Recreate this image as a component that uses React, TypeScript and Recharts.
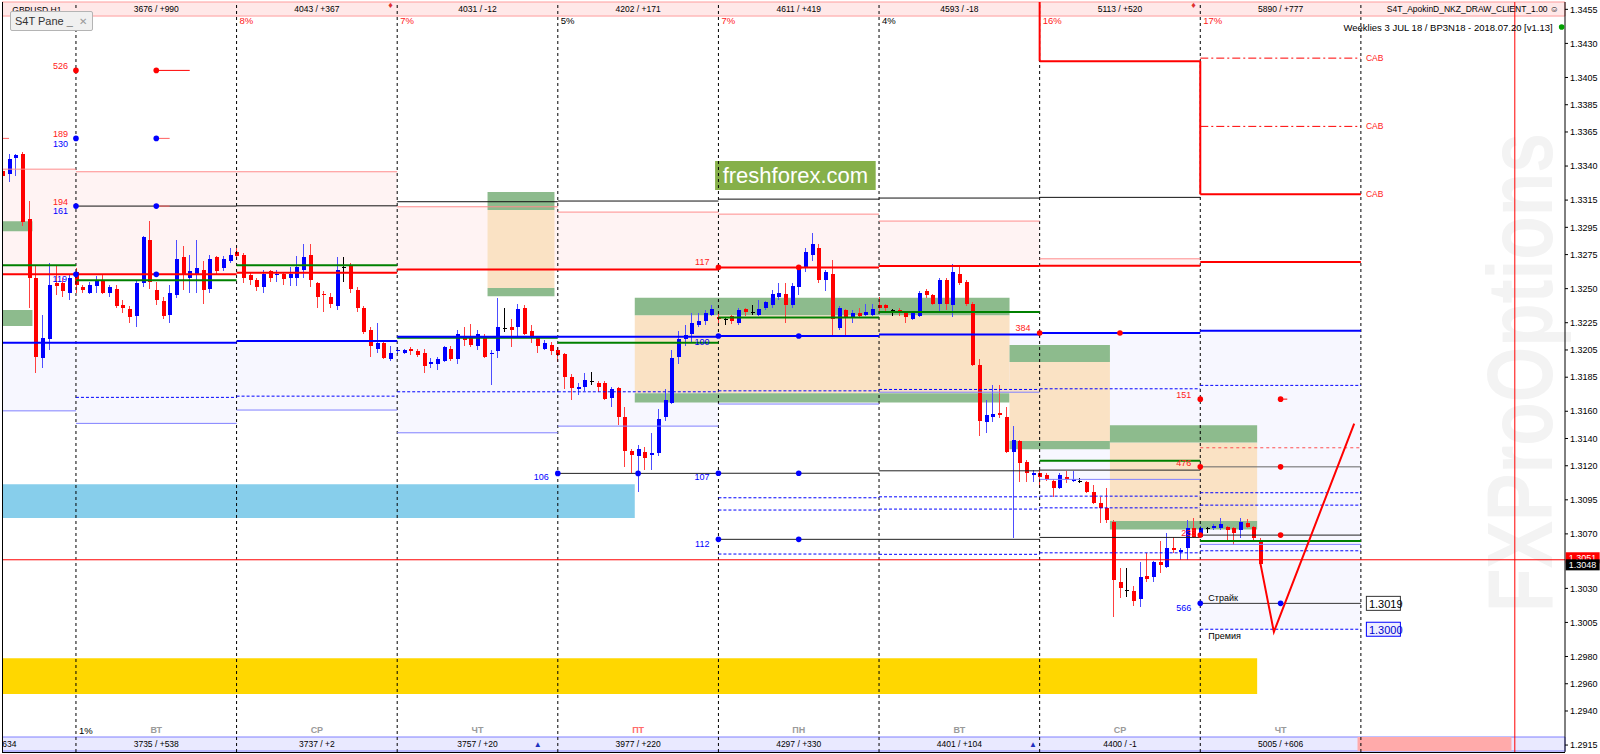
import React from "react";
import {
  ComposedChart,
  Bar,
  Line,
  XAxis,
  YAxis,
  ReferenceArea,
  ReferenceLine,
  ReferenceDot,
} from "recharts";

const FONT = "'Liberation Sans', Arial, sans-serif";
const Y_MIN = 1.29099;
const Y_MAX = 1.34604;
const FIRST_BAR = -11;
const LAST_SLOT = 222;

// H1 candles, bar -11 .. 177
const OPEN = [
  1.3336, 1.3334, 1.3346, 1.3349, 1.3301, 1.3258, 1.3199, 1.3213, 1.3254, 1.3254, 1.3247,
  1.3262, 1.3251, 1.3247, 1.3252, 1.3256, 1.3247, 1.325, 1.3238, 1.3235, 1.323, 1.3254, 1.3286,
  1.3249, 1.3241, 1.3231, 1.3245, 1.3273, 1.3258, 1.3261, 1.3264, 1.325, 1.3273, 1.3265, 1.327,
  1.3277, 1.3275, 1.326, 1.3256, 1.3251, 1.3263, 1.326, 1.3261, 1.3258, 1.3258, 1.3264, 1.3275,
  1.3254, 1.3246, 1.3244, 1.3237, 1.3266, 1.3267, 1.3249, 1.3236, 1.322, 1.3206, 1.321, 1.3198,
  1.3204, 1.3203, 1.3206, 1.3204, 1.3203, 1.3195, 1.3195, 1.3197, 1.3206, 1.3198, 1.3215, 1.3214,
  1.3208, 1.3215, 1.3202, 1.3204, 1.3221, 1.3222, 1.3222, 1.3236, 1.3219, 1.3214, 1.3206, 1.3209,
  1.3205, 1.3202, 1.3185, 1.3176, 1.3178, 1.3182, 1.3181, 1.3181, 1.317, 1.3177, 1.3156, 1.3131,
  1.3127, 1.313, 1.3128, 1.3129, 1.3156, 1.3166, 1.32, 1.3213, 1.3217, 1.3223, 1.3226, 1.3231,
  1.3229, 1.3228, 1.323, 1.3225, 1.3235, 1.3233, 1.3231, 1.3236, 1.3238, 1.3244, 1.3246, 1.3238,
  1.3251, 1.3265, 1.3275, 1.328, 1.3256, 1.3261, 1.3221, 1.3234, 1.3229, 1.3232, 1.3231, 1.3231,
  1.3238, 1.3238, 1.3234, 1.3234, 1.3232, 1.3228, 1.323, 1.3248, 1.3245, 1.3239, 1.3256, 1.3238,
  1.3261, 1.3255, 1.3239, 1.3194, 1.3152, 1.3156, 1.3159, 1.3156, 1.313, 1.3138, 1.3123, 1.3113,
  1.3115, 1.3113, 1.3109, 1.3104, 1.3112, 1.3109, 1.3109, 1.3108, 1.3101, 1.3093, 1.3089, 1.3079,
  1.3035, 1.3029, 1.3028, 1.3022, 1.3039, 1.3038, 1.3049, 1.3046, 1.306, 1.3057, 1.306, 1.3074,
  1.3068, 1.3074, 1.3074, 1.3074, 1.3075, 1.3074, 1.3073, 1.3078, 1.3075, 1.3065,
];
const HIGH = [
  1.3341, 1.3349, 1.3349, 1.335, 1.3314, 1.3267, 1.3231, 1.3269, 1.3267, 1.3258, 1.3261,
  1.3265, 1.3253, 1.3255, 1.3259, 1.3261, 1.3253, 1.3253, 1.3242, 1.3237, 1.3256, 1.3289, 1.33,
  1.3255, 1.3244, 1.3253, 1.3286, 1.3281, 1.3275, 1.3286, 1.327, 1.3275, 1.3274, 1.3274, 1.328,
  1.328, 1.3276, 1.3262, 1.3258, 1.3264, 1.3264, 1.3264, 1.3262, 1.3266, 1.3274, 1.3283, 1.3283,
  1.3255, 1.3248, 1.3247, 1.3273, 1.3273, 1.3269, 1.3251, 1.3237, 1.3222, 1.3225, 1.3212, 1.3208,
  1.3207, 1.3206, 1.3207, 1.3206, 1.3206, 1.3199, 1.32, 1.3208, 1.3208, 1.322, 1.3222, 1.3224,
  1.322, 1.3217, 1.3205, 1.3243, 1.3236, 1.3228, 1.3239, 1.3238, 1.3223, 1.3215, 1.3212, 1.3211,
  1.3207, 1.3203, 1.3187, 1.3181, 1.3188, 1.3189, 1.3182, 1.3182, 1.3178, 1.3178, 1.3163, 1.3132,
  1.3135, 1.3134, 1.3144, 1.3162, 1.3176, 1.3205, 1.3219, 1.3223, 1.3232, 1.3232, 1.3234, 1.3238,
  1.3232, 1.3229, 1.3231, 1.3236, 1.3236, 1.3238, 1.3242, 1.3241, 1.3249, 1.3254, 1.3254, 1.3254,
  1.3267, 1.328, 1.3291, 1.3283, 1.3264, 1.3271, 1.3237, 1.3235, 1.3234, 1.3236, 1.3239, 1.3239,
  1.3244, 1.3239, 1.3235, 1.3236, 1.3233, 1.3232, 1.3248, 1.325, 1.3246, 1.3258, 1.3258, 1.3268,
  1.3266, 1.3256, 1.324, 1.3198, 1.3168, 1.3179, 1.3179, 1.3163, 1.3149, 1.3139, 1.3124, 1.3117,
  1.3117, 1.3115, 1.311, 1.3115, 1.3116, 1.3116, 1.3111, 1.3109, 1.3106, 1.3097, 1.3104, 1.308,
  1.3045, 1.3045, 1.3032, 1.3049, 1.3056, 1.305, 1.3065, 1.3071, 1.3068, 1.306, 1.308, 1.3082,
  1.3076, 1.3075, 1.3077, 1.3082, 1.3076, 1.3075, 1.3082, 1.3081, 1.3076, 1.3067,
];
const LOW = [
  1.3324, 1.3328, 1.3333, 1.3296, 1.3236, 1.3188, 1.3192, 1.3205, 1.3245, 1.3244, 1.3242,
  1.3247, 1.3247, 1.3246, 1.3247, 1.3246, 1.3244, 1.3236, 1.3232, 1.3225, 1.3222, 1.3251, 1.325,
  1.3238, 1.3228, 1.3225, 1.3243, 1.3249, 1.3247, 1.3247, 1.3239, 1.3247, 1.3261, 1.3263, 1.3269,
  1.3272, 1.3254, 1.3253, 1.3248, 1.3247, 1.3255, 1.3255, 1.3253, 1.3252, 1.3252, 1.3258, 1.3251,
  1.3236, 1.3233, 1.3236, 1.3234, 1.3255, 1.3247, 1.3233, 1.3217, 1.32, 1.3203, 1.3198, 1.3197,
  1.3202, 1.3202, 1.3201, 1.32, 1.3188, 1.3192, 1.319, 1.3196, 1.3197, 1.3195, 1.3208, 1.3207,
  1.3205, 1.3199, 1.3179, 1.3199, 1.3218, 1.3207, 1.3215, 1.3216, 1.321, 1.3203, 1.3205, 1.3201,
  1.3196, 1.3176, 1.3168, 1.3172, 1.3175, 1.3179, 1.3174, 1.3168, 1.3163, 1.315, 1.3119, 1.3115,
  1.3101, 1.3117, 1.3117, 1.3127, 1.3153, 1.3165, 1.3195, 1.3208, 1.3211, 1.3222, 1.3223, 1.323,
  1.3225, 1.3223, 1.3224, 1.3223, 1.323, 1.3231, 1.323, 1.3234, 1.3236, 1.3242, 1.3225, 1.3236,
  1.3245, 1.3262, 1.327, 1.3254, 1.3248, 1.3215, 1.322, 1.3215, 1.3225, 1.3229, 1.323, 1.323,
  1.3232, 1.3232, 1.323, 1.323, 1.3225, 1.3227, 1.3229, 1.3243, 1.3238, 1.3233, 1.3234, 1.3229,
  1.3253, 1.3237, 1.3193, 1.3142, 1.3144, 1.3152, 1.3155, 1.3129, 1.3067, 1.3108, 1.3108, 1.3108,
  1.3104, 1.3109, 1.3097, 1.3103, 1.3107, 1.3108, 1.3107, 1.31, 1.3092, 1.3078, 1.3078, 1.3009,
  1.3023, 1.3024, 1.3017, 1.3016, 1.3035, 1.3035, 1.3041, 1.3045, 1.3056, 1.3051, 1.3051, 1.3067,
  1.3067, 1.3071, 1.3073, 1.3073, 1.3064, 1.3062, 1.3067, 1.3074, 1.3065, 1.3047,
];
const CLOSE = [
  1.3333, 1.3345, 1.3348, 1.3299, 1.3258, 1.32, 1.3214, 1.3253, 1.3252, 1.3248, 1.3258,
  1.3253, 1.3249, 1.3253, 1.3256, 1.3247, 1.3251, 1.3237, 1.3236, 1.3229, 1.3254, 1.3288, 1.3255,
  1.3242, 1.323, 1.3247, 1.3272, 1.326, 1.3263, 1.3265, 1.3249, 1.3272, 1.3263, 1.3272, 1.3275,
  1.3274, 1.3258, 1.3256, 1.3251, 1.3261, 1.3258, 1.3261, 1.3257, 1.3261, 1.3266, 1.3273, 1.3256,
  1.3244, 1.3245, 1.3239, 1.3264, 1.3266, 1.325, 1.3236, 1.3218, 1.3208, 1.321, 1.3199, 1.3203,
  1.3205, 1.3205, 1.3204, 1.3201, 1.3193, 1.3196, 1.3198, 1.3207, 1.3198, 1.3217, 1.3212, 1.3209,
  1.3217, 1.32, 1.3203, 1.3222, 1.3221, 1.322, 1.3235, 1.3217, 1.3215, 1.3208, 1.321, 1.3204,
  1.3201, 1.3185, 1.3177, 1.3178, 1.3183, 1.3182, 1.3178, 1.3169, 1.3176, 1.3156, 1.3131, 1.3128,
  1.3132, 1.3126, 1.3129, 1.3154, 1.3168, 1.3199, 1.3213, 1.3216, 1.3225, 1.3226, 1.3232, 1.3235,
  1.3228, 1.3228, 1.3226, 1.3234, 1.3233, 1.3233, 1.3235, 1.324, 1.3246, 1.3247, 1.3238, 1.3252,
  1.3266, 1.3277, 1.3283, 1.3256, 1.3262, 1.3228, 1.3236, 1.3229, 1.3232, 1.323, 1.3233, 1.3235,
  1.3236, 1.3236, 1.3234, 1.3232, 1.3229, 1.3232, 1.3247, 1.3245, 1.3239, 1.3256, 1.3239, 1.3262,
  1.3254, 1.3239, 1.3194, 1.3153, 1.3157, 1.3158, 1.3157, 1.313, 1.3139, 1.3122, 1.3115, 1.3115,
  1.3112, 1.311, 1.3104, 1.3113, 1.311, 1.311, 1.3109, 1.3101, 1.3093, 1.3089, 1.308, 1.3036,
  1.303, 1.3029, 1.3021, 1.3038, 1.3037, 1.3049, 1.3047, 1.306, 1.3058, 1.3058, 1.3074, 1.3068,
  1.3074, 1.3074, 1.3076, 1.3077, 1.3073, 1.3071, 1.3079, 1.3075, 1.3067, 1.3048,
];

// hand drawn projection
const PROJ_BARS = [177, 179, 191];
const PROJ_PRICE = [1.3048, 1.2998, 1.3151];

const PRICE_TICKS = [
  1.3455, 1.343, 1.3405, 1.3385, 1.3365, 1.334, 1.3315, 1.3295, 1.3275, 1.325, 1.3225, 1.3205,
  1.3185, 1.316, 1.314, 1.312, 1.3095, 1.307, 1.303, 1.3005, 1.298, 1.296, 1.294, 1.2915,
];

// days: index 0 is the partial day on the left
const DAY_FROM = [-11, 0, 24, 48, 72, 96, 120, 144, 168];
const DAY_TO = [0, 24, 48, 72, 96, 120, 144, 168, 192];
const DAY_MID = [12, 36, 60, 84, 108, 132, 156, 180];
const DAY_NAMES = ["ВТ", "СР", "ЧТ", "ПТ", "ПН", "ВТ", "СР", "ЧТ"];
const TOP_STATS = ["3676 / +990", "4043 / +367", "4031 / -12", "4202 / +171", "4611 / +419", "4593 / -18", "5113 / +520", "5890 / +777"];
const BOTTOM_STATS = ["3735 / +538", "3737 / +2", "3757 / +20", "3977 / +220", "4297 / +330", "4401 / +104", "4400 / -1", "5005 / +606"];
const DAY_PCT = ["8%", "7%", "5%", "7%", "4%", "16%", "17%"];
const PCT_RED = [true, true, false, true, false, true, true];

const RED_LVL = [1.32605, 1.32605, 1.32616, 1.32641, 1.32641, 1.32656, 1.32666, 1.32668, 1.32695];
const GREEN_LVL = [1.32671, 1.32561, 1.32671, 1.32139, 1.32103, 1.32289, 1.32328, 1.31236, 1.30647];
const BLUE_LVL = [1.32103, 1.32103, 1.32115, 1.32147, 1.32147, 1.32152, 1.32164, 1.32174, 1.32191];
const PINK_LVL = [1.33377, 1.33358, 1.33358, 1.33101, 1.33062, 1.33047, 1.32996, 1.32719, null];
const BLACK_LVL = [null, 1.33106, 1.33108, 1.33138, 1.33143, 1.33157, 1.33165, 1.3317, null];
const DOT_LVL = [null, 1.31702, 1.31711, 1.31743, 1.31743, 1.3175, 1.3176, 1.31765, 1.3179];
const THIN_LVL = [1.31603, 1.31511, 1.31609, 1.31442, 1.31491, 1.31653, 1.3174, 1.311, 1.30623];
const LAV_BOTTOM = [1.31603, 1.31511, 1.31609, 1.31442, 1.31491, 1.31653, 1.3174, 1.311, 1.3];
const LOW_DOT_A = [null, null, null, null, null, 1.30965, 1.30972, 1.30977, 1.31002];
const LOW_DOT_B = [null, null, null, null, null, 1.30875, 1.30882, 1.30891, 1.30911];
const LOW_DOT_C = [null, null, null, null, null, 1.30552, 1.3055, 1.30561, 1.30576];
const MID_BLACK = [null, null, null, null, 1.31144, 1.31145, 1.31163, 1.31168, 1.31192];
const LOW_BLACK = [null, null, null, null, null, 1.3066, 1.3066, 1.30674, 1.30691];

// supply / demand boxes
const BOX_FROM = [62, 84, 140, 155];
const BOX_TO = [71, 139, 154, 176];
const BOX_TOP = [1.33209, 1.32433, 1.32086, 1.31498];
const BOX_IN_TOP = [1.33077, 1.32304, 1.31961, 1.31371];
const BOX_IN_BOT = [1.32504, 1.31733, 1.31381, 1.30794];
const BOX_BOT = [1.32445, 1.31665, 1.31322, 1.30733];

const CAB_STEP = [1.3417, 1.33192];
const CAB_DASH = [1.34192, 1.33691];
const BID = 1.3051;
const LAST = 1.3048;
const STRIKE = 1.3019;
const PREMIUM = 1.3;

const TOP_TEXT_Y = 1.34553;
const PCT_Y = 1.34465;
const INFO_Y = 1.3442;
const DAYNAME_Y = 1.2926;
const BOTTOM_TEXT_Y = 1.29158;

const rows: any[] = [];
for (let i = FIRST_BAR; i <= LAST_SLOT; i++) {
  const k = i - FIRST_BAR;
  const row: any = { i };
  if (k < OPEN.length) {
    row.o = OPEN[k];
    row.h = HIGH[k];
    row.l = LOW[k];
    row.c = CLOSE[k];
    row.range = [LOW[k], HIGH[k]];
  }
  const p = PROJ_BARS.indexOf(i);
  if (p >= 0) row.proj = PROJ_PRICE[p];
  rows.push(row);
}

const Candle = (p: any) => {
  const { x, y, width, height, payload } = p;
  if (!payload || payload.h == null || !(height > 0)) return null;
  const { o, h, l, c } = payload;
  const k = height / (h - l);
  const cx = Math.round(x + width / 2) + 0.5;
  const yo = y + (h - o) * k;
  const yc = y + (h - c) * k;
  const up = c > o;
  const down = c < o;
  const body = up ? "#0000ff" : down ? "#ff0000" : "#000000";
  const wick = up ? "#4d4dff" : down ? "#ff4040" : "#000000";
  const top = Math.min(yo, yc);
  const bh = Math.max(1, Math.abs(yc - yo));
  return (
    <g shapeRendering="crispEdges">
      <line x1={cx} x2={cx} y1={y} y2={y + height} stroke={wick} strokeWidth={1} />
      <rect x={cx - 2} y={top} width={4.5} height={bh} fill={body} />
    </g>
  );
};

type TxtOpt = { dx?: number; dy?: number; anchor?: "start" | "middle" | "end"; fill?: string; size?: number; bold?: boolean };
const txt = (t: string, o: TxtOpt = {}) => (p: any) => (
  <text
    x={p.cx + (o.dx ?? 0)}
    y={p.cy + (o.dy ?? 0)}
    textAnchor={o.anchor ?? "middle"}
    dominantBaseline="central"
    fontFamily={FONT}
    fontSize={o.size ?? 9}
    fontWeight={o.bold ? "bold" : "normal"}
    fill={o.fill ?? "#000"}
  >
    {t}
  </text>
);

const shifted = (n: number) => (p: any) => (
  <rect x={p.x + p.width / (2 * n)} y={p.y} width={p.width} height={p.height} fill={p.fill} />
);

const Watermark = (p: any) => {
  const bx = p.x + p.width;
  const cy = p.y + p.height / 2;
  return (
    <text
      x={bx}
      y={cy}
      transform={`rotate(-90 ${bx} ${cy})`}
      textAnchor="middle"
      fontFamily={FONT}
      fontWeight="bold"
      fontSize={92}
      fill="#f3f3f3"
      textLength={p.height}
      lengthAdjust="spacingAndGlyphs"
    >
      FXProOptions
    </text>
  );
};

const axisBox = (t: string, bg: string, dy: number) => (p: any) => (
  <g>
    <rect x={p.cx + 4} y={p.cy - 5.5 + dy} width={34} height={11} fill={bg} />
    <text x={p.cx + 7} y={p.cy + 0.5 + dy} dominantBaseline="central" fontFamily={FONT} fontSize={9} fill="#fff">
      {t}
    </text>
  </g>
);

const valueBox = (t: string, border: string, bg: string, fg: string) => (p: any) => (
  <g>
    <rect x={p.cx + 5.5} y={p.cy - 7} width={34} height={14} fill={bg} stroke={border} />
    <text x={p.cx + 8} y={p.cy + 0.5} dominantBaseline="central" fontFamily={FONT} fontSize={11} fill={fg}>
      {t}
    </text>
  </g>
);

const seg = (key: string, x1: number, x2: number, y: number, stroke: string, w = 1, dash?: string) => (
  <ReferenceLine
    key={key}
    segment={[{ x: x1, y }, { x: x2, y }]}
    stroke={stroke}
    strokeWidth={w}
    strokeDasharray={dash}
    ifOverflow="visible"
  />
);

const dot = (key: string, x: number, y: number, fill: string) => (
  <ReferenceDot key={key} x={x} y={y} r={2.8} fill={fill} stroke="none" ifOverflow="visible" />
);

const label = (key: string, x: number, y: number, t: string, o: TxtOpt = {}) => (
  <ReferenceDot key={key} x={x} y={y} r={1} ifOverflow="visible" shape={txt(t, o)} />
);

export default function App() {
  const fills: React.ReactNode[] = [];
  const lines: React.ReactNode[] = [];
  for (let d = 0; d < DAY_FROM.length; d++) {
    const a = DAY_FROM[d];
    const b = DAY_TO[d];
    const n = b - a;
    const pink = PINK_LVL[d];
    if (pink != null) {
      fills.push(
        <ReferenceArea key={`pf${d}`} x1={a} x2={b - 1} y1={RED_LVL[d]} y2={pink} fill="#fff3f3" fillOpacity={1} stroke="none" shape={shifted(n)} />
      );
      lines.push(seg(`pl${d}`, a, b, pink, "#ff8c8c"));
    }
    fills.push(
      <ReferenceArea key={`lf${d}`} x1={a} x2={b - 1} y1={LAV_BOTTOM[d]} y2={BLUE_LVL[d]} fill="#f7f7ff" fillOpacity={1} stroke="none" shape={shifted(n)} />
    );
    const blk = BLACK_LVL[d];
    if (blk != null) lines.push(seg(`bk${d}`, a, b, blk, "#111"));
    const dl = DOT_LVL[d];
    if (dl != null) lines.push(seg(`dl${d}`, a, b, dl, "#0000ff", 1, "3 2"));
    lines.push(seg(`th${d}`, a, b, THIN_LVL[d], "#8080ff"));
    const da = LOW_DOT_A[d];
    if (da != null) lines.push(seg(`da${d}`, a, b, da, "#0000ff", 1, "3 2"));
    const db = LOW_DOT_B[d];
    if (db != null) lines.push(seg(`db${d}`, a, b, db, "#0000ff", 1, "3 2"));
    const dc = LOW_DOT_C[d];
    if (dc != null) lines.push(seg(`dc${d}`, a, b, dc, "#0000ff", 1, "3 2"));
    const mb = MID_BLACK[d];
    if (mb != null) lines.push(seg(`mb${d}`, a, b, mb, d === 8 ? "#666" : "#222"));
    const lb = LOW_BLACK[d];
    if (lb != null) lines.push(seg(`lb${d}`, a, b, lb, "#222"));
    lines.push(seg(`rd${d}`, a, b, RED_LVL[d], "#ff0000", 2));
    lines.push(seg(`gr${d}`, a, b, GREEN_LVL[d], "#008000", 2));
    lines.push(seg(`bl${d}`, a, b, BLUE_LVL[d], "#0000ff", 2));
  }

  const boxes: React.ReactNode[] = [];
  for (let k = 0; k < BOX_FROM.length; k++) {
    boxes.push(
      <ReferenceArea key={`bo${k}`} x1={BOX_FROM[k]} x2={BOX_TO[k]} y1={BOX_IN_BOT[k]} y2={BOX_IN_TOP[k]} fill="#fae2c4" fillOpacity={1} stroke="none" />,
      <ReferenceArea key={`bt${k}`} x1={BOX_FROM[k]} x2={BOX_TO[k]} y1={BOX_IN_TOP[k]} y2={BOX_TOP[k]} fill="#8dbb8d" fillOpacity={1} stroke="none" />,
      <ReferenceArea key={`bb${k}`} x1={BOX_FROM[k]} x2={BOX_TO[k]} y1={BOX_BOT[k]} y2={BOX_IN_BOT[k]} fill="#8dbb8d" fillOpacity={1} stroke="none" />
    );
  }

  const texts: React.ReactNode[] = [];
  DAY_MID.forEach((m, k) => {
    texts.push(label(`ts${k}`, m, TOP_TEXT_Y, TOP_STATS[k], { size: 8.5 }));
    texts.push(label(`bs${k}`, m, BOTTOM_TEXT_Y, BOTTOM_STATS[k], { size: 8.5 }));
    texts.push(label(`dn${k}`, m, DAYNAME_Y, DAY_NAMES[k], { size: 9, bold: true, fill: k === 3 ? "#ff6a6a" : "#9a9a9a" }));
  });
  DAY_PCT.forEach((t, k) => {
    texts.push(label(`pc${k}`, DAY_FROM[k + 2], PCT_Y, t, { anchor: "start", dx: 3, size: 9.5, fill: PCT_RED[k] ? "#ff2020" : "#000" }));
  });

  return (
    <div style={{ position: "fixed", left: 0, top: 0, width: 1600, height: 754, background: "#fff", overflow: "hidden" }}>
      <ComposedChart width={1600} height={754} data={rows} margin={{ top: 2, right: 0, bottom: 2, left: -1 }}>
        <XAxis dataKey="i" type="category" hide />
        <YAxis
          orientation="right"
          width={35}
          type="number"
          domain={[Y_MIN, Y_MAX]}
          allowDataOverflow
          ticks={PRICE_TICKS}
          interval={0}
          tickFormatter={(v: number) => v.toFixed(4)}
          tick={{ fontSize: 9, fill: "#000", fontFamily: FONT }}
          tickSize={3}
          tickMargin={2}
          axisLine={{ stroke: "#000" }}
          tickLine={{ stroke: "#000" }}
        />

        {/* bands and background zones */}
        <ReferenceArea y1={1.34501} y2={Y_MAX} fill="#ffe8e8" fillOpacity={1} stroke="#ff9c9c" />
        <ReferenceArea y1={Y_MIN + 0.00007} y2={1.29209} fill="#e9e9ff" fillOpacity={1} stroke="#8080ff" />
        <ReferenceArea x1={192} x2={214} y1={Y_MIN + 0.00007} y2={1.29209} fill="#ffaaaa" fillOpacity={1} stroke="none" />
        <ReferenceArea x1={215} x2={220} y1={1.30127} y2={1.33642} fill="none" fillOpacity={1} shape={Watermark} />
        {fills}
        {boxes}
        <ReferenceArea x1={-11} x2={-7} y1={1.32922} y2={1.32995} fill="#8dbb8d" fillOpacity={1} stroke="none" />
        <ReferenceArea x1={-11} x2={-7} y1={1.32225} y2={1.32343} fill="#8dbb8d" fillOpacity={1} stroke="none" />
        <ReferenceArea x1={-11} x2={83} y1={1.30816} y2={1.31065} fill="#87ceeb" fillOpacity={1} stroke="none" />
        <ReferenceArea x1={-11} x2={176} y1={1.29524} y2={1.29788} fill="#ffd700" fillOpacity={1} stroke="none" />
        <ReferenceArea
          x1={96}
          x2={119}
          y1={1.33224}
          y2={1.33437}
          fill="#86b04a"
          fillOpacity={1}
          stroke="none"
          label={{ value: "freshforex.com", position: "center", fill: "#fff", fontSize: 22, fontFamily: FONT }}
        />

        {/* period separators */}
        {[0, 24, 48, 72, 96, 120, 144, 168, 192].map((s) => (
          <ReferenceLine key={`sep${s}`} x={s} stroke="#000" strokeDasharray="3 3" strokeWidth={1} />
        ))}

        {lines}

        {/* extra levels */}
        {seg("r151", 180, 181, 1.31689, "#ff0000")}
        {seg("rdot7", 168, 192, 1.31332, "#ff5050", 1, "3 3")}
        {seg("strike", 168, 192, STRIKE, "#333")}
        {seg("prem", 168, 192, PREMIUM, "#0000ff", 1, "3 2")}
        {seg("l526", 12, 17, 1.34102, "#ff0000")}
        {seg("l189", 12, 14, 1.33603, "#ff6060")}
        {seg("l194", 12, 14, 1.33106, "#ff6060")}
        {seg("lprev", -11, -10, 1.33603, "#ff6060")}
        {seg("cabd1", 168, 192, CAB_DASH[0], "#ff0000", 1, "8 3 2 3")}
        {seg("cabd2", 168, 192, CAB_DASH[1], "#ff0000", 1, "8 3 2 3")}
        <ReferenceLine segment={[{ x: 144, y: Y_MAX }, { x: 144, y: CAB_STEP[0] }]} stroke="#ff0000" strokeWidth={2} />
        {seg("cab1", 144, 168, CAB_STEP[0], "#ff0000", 2)}
        <ReferenceLine segment={[{ x: 168, y: CAB_STEP[0] }, { x: 168, y: CAB_STEP[1] }]} stroke="#ff0000" strokeWidth={2} />
        {seg("cab2", 168, 192, CAB_STEP[1], "#ff0000", 2)}
        <ReferenceLine y={BID} stroke="#ff0000" strokeWidth={1} />
        <ReferenceLine x={215} stroke="#ff0000" strokeWidth={1} />

        <Bar dataKey="range" barSize={4} shape={Candle} isAnimationActive={false} />
        <Line dataKey="proj" stroke="#ff0000" strokeWidth={2} dot={false} connectNulls isAnimationActive={false} />

        {/* markers */}
        {dot("d526a", 0, 1.34102, "#ff0000")}
        {dot("d526b", 12, 1.34102, "#ff0000")}
        {dot("d189a", 0, 1.33603, "#0000ff")}
        {dot("d189b", 12, 1.33603, "#0000ff")}
        {dot("d194a", 0, 1.33106, "#0000ff")}
        {dot("d194b", 12, 1.33106, "#0000ff")}
        {dot("d119a", 0, 1.32605, "#0000ff")}
        {dot("d119b", 12, 1.32605, "#0000ff")}
        {dot("d106a", 72, 1.31144, "#0000ff")}
        {dot("d106b", 84, 1.31144, "#0000ff")}
        {dot("d107a", 96, 1.31145, "#0000ff")}
        {dot("d107b", 108, 1.31145, "#0000ff")}
        {dot("d117a", 96, 1.32656, "#ff0000")}
        {dot("d117b", 108, 1.32656, "#ff0000")}
        {dot("d100a", 96, 1.32152, "#0000ff")}
        {dot("d100b", 108, 1.32152, "#0000ff")}
        {dot("d112a", 96, 1.3066, "#0000ff")}
        {dot("d112b", 108, 1.3066, "#0000ff")}
        {dot("d384a", 144, 1.32174, "#ff0000")}
        {dot("d384b", 156, 1.32174, "#ff0000")}
        {dot("d151a", 168, 1.31689, "#ff0000")}
        {dot("d151b", 180, 1.31689, "#ff0000")}
        {dot("d476a", 168, 1.31192, "#ff0000")}
        {dot("d476b", 180, 1.31192, "#ff0000")}
        {dot("d233a", 168, 1.30691, "#ff0000")}
        {dot("d233b", 180, 1.30691, "#ff0000")}
        {dot("d566a", 168, STRIKE, "#0000ff")}
        {dot("d566b", 180, STRIKE, "#0000ff")}

        {label("t526", 0, 1.34102, "526", { anchor: "end", dx: -8, dy: -4, fill: "#ff2020" })}
        {label("t189", 0, 1.33603, "189", { anchor: "end", dx: -8, dy: -4, fill: "#ff2020" })}
        {label("t130", 0, 1.33603, "130", { anchor: "end", dx: -8, dy: 6, fill: "#0000ff" })}
        {label("t194", 0, 1.33106, "194", { anchor: "end", dx: -8, dy: -4, fill: "#ff2020" })}
        {label("t161", 0, 1.33106, "161", { anchor: "end", dx: -8, dy: 5, fill: "#0000ff" })}
        {label("t119", 0, 1.32605, "119", { anchor: "end", dx: -9, dy: 5, fill: "#0000ff" })}
        {label("t106", 72, 1.31144, "106", { anchor: "end", dx: -9, dy: 4, fill: "#0000ff" })}
        {label("t107", 96, 1.31145, "107", { anchor: "end", dx: -9, dy: 4, fill: "#0000ff" })}
        {label("t117", 96, 1.32656, "117", { anchor: "end", dx: -9, dy: -5, fill: "#ff2020" })}
        {label("t100", 96, 1.32152, "100", { anchor: "end", dx: -9, dy: 6, fill: "#0000ff" })}
        {label("t112", 96, 1.3066, "112", { anchor: "end", dx: -9, dy: 5, fill: "#0000ff" })}
        {label("t384", 144, 1.32174, "384", { anchor: "end", dx: -9, dy: -5, fill: "#ff2020" })}
        {label("t151", 168, 1.31689, "151", { anchor: "end", dx: -9, dy: -4, fill: "#ff2020" })}
        {label("t476", 168, 1.31192, "476", { anchor: "end", dx: -9, dy: -4, fill: "#ff2020" })}
        {label("t233", 168, 1.30691, "233", { anchor: "end", dx: -4, dy: -2, fill: "#ff2020" })}
        {label("t566", 168, STRIKE, "566", { anchor: "end", dx: -9, dy: 5, fill: "#0000ff" })}
        {label("tstr", 168, STRIKE, "Страйк", { anchor: "start", dx: 8, dy: -5, size: 9 })}
        {label("tprem", 168, PREMIUM, "Премия", { anchor: "start", dx: 8, dy: 7, size: 9 })}
        {label("cab1t", 192, CAB_DASH[0], "CAB", { anchor: "start", dx: 5, fill: "#ff2020", size: 8.5 })}
        {label("cab2t", 192, CAB_DASH[1], "CAB", { anchor: "start", dx: 5, fill: "#ff2020", size: 8.5 })}
        {label("cab3t", 192, CAB_STEP[1], "CAB", { anchor: "start", dx: 5, fill: "#ff2020", size: 8.5 })}
        <ReferenceDot x={192} y={STRIKE} r={1} ifOverflow="visible" shape={valueBox("1.3019", "#333", "#fff", "#000")} />
        <ReferenceDot x={192} y={PREMIUM} r={1} ifOverflow="visible" shape={valueBox("1.3000", "#0000ff", "#eeeeff", "#0000cc")} />

        {texts}
        {label("bleft", -11, BOTTOM_TEXT_Y, "634", { anchor: "start", dx: 0, size: 8.5 })}
        {label("p1", 0, DAYNAME_Y, "1%", { anchor: "start", dx: 3, size: 9.5 })}
        {label("sym", -11, TOP_TEXT_Y - 0.0001, "GBPUSD,H1", { anchor: "start", dx: 10, size: 8.5 })}
        {label("ind", 222, TOP_TEXT_Y, "S4T_ApokinD_NKZ_DRAW_CLIENT_1.00 ☺", { anchor: "end", dx: -3, size: 8.5 })}
        {label("wk", 222, INFO_Y, "Weeklies 3 JUL 18 / BP3N18 - 2018.07.20 [v1.13]", { anchor: "end", dx: -9, size: 9.5 })}
        {dot("wkdot", 222, INFO_Y, "#00a000")}
        {label("ar1", 69, BOTTOM_TEXT_Y - 0.00003, "▲", { size: 8, fill: "#2030c0" })}
        {label("ar2", 143, BOTTOM_TEXT_Y - 0.00003, "▲", { size: 8, fill: "#2030c0" })}
        {label("dm1", 47, 1.3458, "♦", { size: 9, fill: "#e03030" })}
        {label("dm2", 167, 1.3458, "♦", { size: 9, fill: "#e03030" })}

        <ReferenceDot x={222} y={BID} r={1} ifOverflow="visible" shape={axisBox("1.3051", "#ff0000", -2)} />
        <ReferenceDot x={222} y={LAST} r={1} ifOverflow="visible" shape={axisBox("1.3048", "#000", 1)} />
      </ComposedChart>

      <div style={{ position: "absolute", left: 0, top: 0, width: 2, height: 754, background: "#fff" }} />
      <div style={{ position: "absolute", left: 2, top: 2, width: 1, height: 751, background: "#000" }} />
      <div style={{ position: "absolute", left: 2, top: 752, width: 1563, height: 1, background: "#000" }} />
      <div
        style={{
          position: "absolute",
          left: 10,
          top: 11,
          width: 83,
          height: 20,
          boxSizing: "border-box",
          background: "#f0f0f0",
          border: "1px solid #b4b4b4",
          borderRadius: 2,
          fontFamily: FONT,
          fontSize: 11,
          lineHeight: "18px",
          color: "#333",
          paddingLeft: 4,
          whiteSpace: "nowrap",
          overflow: "hidden",
        }}
      >
        S4T Pane <span style={{ color: "#777" }}>_</span>
        <span style={{ color: "#999", marginLeft: 6, fontSize: 10 }}>✕</span>
      </div>
    </div>
  );
}
